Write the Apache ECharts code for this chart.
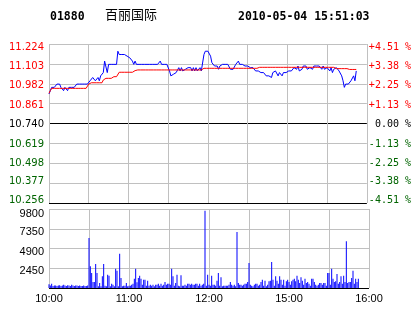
<!DOCTYPE html>
<html><head><meta charset="utf-8">
<script src="https://cdn.jsdelivr.net/npm/echarts@6/dist/echarts.min.js"></script>
<style>html,body{margin:0;padding:0;background:#fff}#c{width:414px;height:314px}</style>
</head><body><div id="c"></div>
<script>
const stockCode = '01880';
const stockName = '百丽国际';
const timestamp = '2010-05-04 15:51:03';
const prevClose = 10.74;
const priceStep = 0.121;
// bottom to top
const priceTickLabels = ['10.256','10.377','10.498','10.619','10.740','10.861','10.982','11.103','11.224'];
const pctTickLabels = ['-4.51 %','-3.38 %','-2.25 %','-1.13 %',' 0.00 %','+1.13 %','+2.25 %','+3.38 %','+4.51 %'];
const volumeMax = 9800;
const volumeStep = 2450;
const timeTickLabels = ['10:00','','11:00','','12:00','','15:00','','16:00'];
const sessionMinutes = 240;

// one value per trading minute from 10:00
const minutePrice = [
10.92,10.94,10.96,10.96,10.96,10.96,10.98,10.98,10.98,10.96,
10.95,10.94,10.96,10.95,10.94,10.96,10.96,10.96,10.96,10.96,
10.96,10.98,10.98,10.98,10.98,10.98,10.98,10.98,10.98,10.98,
10.99,11.00,11.01,11.02,11.01,11.00,10.99,11.02,11.00,11.03,
11.04,11.05,11.12,11.11,11.05,11.10,11.10,11.10,11.10,11.10,
11.10,11.10,11.18,11.16,11.16,11.16,11.16,11.16,11.15,11.15,
11.14,11.14,11.14,11.12,11.10,11.12,11.10,11.10,11.10,11.10,
11.10,11.10,11.10,11.10,11.10,11.10,11.10,11.10,11.10,11.10,
11.10,11.10,11.10,11.10,11.12,11.10,11.10,11.10,11.10,11.10,
11.10,11.06,11.03,11.02,11.04,11.03,11.05,11.06,11.08,11.06,
11.08,11.06,11.07,11.07,11.08,11.08,11.08,11.08,11.06,11.08,
11.06,11.08,11.06,11.06,11.08,11.06,11.06,11.16,11.18,11.18,
11.18,11.17,11.15,11.11,11.10,11.09,11.09,11.09,11.07,11.09,
11.10,11.10,11.10,11.10,11.10,11.10,11.10,11.07,11.07,11.07,
11.07,11.10,11.10,11.12,11.10,11.09,11.10,11.10,11.09,11.10,
11.09,11.10,11.08,11.07,11.08,11.07,11.06,11.06,11.06,11.05,
11.05,11.06,11.05,11.05,11.03,11.03,11.03,11.04,11.02,11.05,
11.05,11.06,11.05,11.03,11.05,11.04,11.03,11.05,11.04,11.05,
11.05,11.06,11.05,11.06,11.07,11.08,11.09,11.07,11.09,11.06,
11.07,11.07,11.09,11.08,11.09,11.07,11.06,11.08,11.09,11.07,
11.09,11.09,11.09,11.09,11.09,11.08,11.07,11.09,11.07,11.08,
11.08,11.08,11.06,11.08,11.05,11.07,11.07,11.08,11.09,11.06,
11.05,11.03,11.00,10.96,10.98,10.98,10.98,10.98,11.00,11.01,
11.03,11.00,11.06
];

const minuteAvg = [
10.924,10.940,10.954,10.954,10.954,10.954,10.954,10.954,10.954,10.954,
10.954,10.954,10.954,10.954,10.954,10.954,10.954,10.954,10.954,10.954,
10.954,10.954,10.954,10.954,10.954,10.954,10.954,10.954,10.954,10.954,
10.980,10.980,10.988,10.988,10.988,10.988,10.988,10.988,10.988,10.988,
10.988,11.005,11.015,11.015,11.015,11.015,11.015,11.015,11.025,11.025,
11.025,11.025,11.025,11.052,11.052,11.052,11.052,11.052,11.052,11.052,
11.052,11.052,11.052,11.052,11.062,11.062,11.062,11.066,11.066,11.066,
11.066,11.066,11.066,11.066,11.066,11.066,11.066,11.066,11.066,11.066,
11.066,11.066,11.066,11.066,11.066,11.066,11.066,11.066,11.066,11.066,
11.066,11.066,11.066,11.066,11.066,11.066,11.066,11.066,11.066,11.066,
11.066,11.066,11.066,11.066,11.066,11.066,11.066,11.066,11.066,11.066,
11.066,11.066,11.066,11.066,11.066,11.066,11.066,11.076,11.076,11.076,
11.076,11.076,11.076,11.076,11.076,11.076,11.076,11.076,11.076,11.076,
11.076,11.076,11.076,11.076,11.076,11.076,11.076,11.076,11.076,11.076,
11.076,11.076,11.076,11.076,11.076,11.076,11.076,11.076,11.076,11.076,
11.076,11.076,11.076,11.076,11.076,11.076,11.076,11.076,11.082,11.082,
11.082,11.082,11.082,11.082,11.082,11.082,11.082,11.082,11.082,11.082,
11.082,11.082,11.082,11.082,11.082,11.082,11.082,11.082,11.082,11.082,
11.082,11.082,11.082,11.082,11.082,11.082,11.082,11.082,11.082,11.082,
11.082,11.082,11.082,11.082,11.082,11.082,11.082,11.082,11.082,11.082,
11.082,11.082,11.082,11.082,11.082,11.082,11.082,11.082,11.082,11.082,
11.082,11.082,11.082,11.082,11.082,11.082,11.074,11.074,11.074,11.074,
11.074,11.074,11.074,11.074,11.074,11.074,11.069,11.069,11.069,11.069,
11.069,11.069,11.069
];

const minuteVolume = [
450,300,520,250,300,300,250,300,350,250,
300,400,300,250,350,300,250,400,300,250,
300,300,250,300,250,250,300,250,250,300,
6200,2690,1860,740,740,2980,1860,210,620,210,
1450,2980,290,210,1650,1530,210,540,410,210,
2400,2150,210,4260,1240,210,290,290,620,210,
290,290,410,540,1160,2400,700,1240,1530,1160,
410,1030,1030,290,910,290,410,290,410,210,
410,410,540,290,540,290,410,740,410,540,
540,410,2400,1450,290,620,1650,290,210,1570,
290,290,410,290,540,540,410,540,410,410,
540,540,290,540,290,410,540,9590,290,1650,
410,290,1530,410,410,290,910,1860,290,1320,
210,290,290,290,290,410,740,410,290,410,
210,6950,620,410,410,290,410,540,540,740,
3100,410,290,210,410,540,540,290,410,740,
1030,290,910,210,410,830,910,3230,1030,290,
1450,910,540,1450,1030,410,1030,290,830,1030,
740,410,830,1030,1160,830,1530,1030,620,1320,
910,410,1160,620,740,540,290,1160,1160,740,
410,290,410,620,620,410,620,620,290,1860,
1860,410,2400,1160,740,830,1740,540,740,1450,
540,1530,740,5790,620,740,740,1240,2150,540,
1160,740,1160
];

const UP = '#ff0000', DOWN = '#006400', GRID = '#c0c0c0';
const toUnits = p => (p - prevClose) / priceStep;
const half = (priceTickLabels.length - 1) / 2;
const tickIdx = v => Math.round(v) + half;
const idxColor = i => i > half ? UP : (i < half ? DOWN : '#000');
const priceSplitColors = priceTickLabels.map((_, i) => (i === 0 || i === half) ? '#000' : GRID);
const volSplitColors = [0,1,2,3,4].map(i => i === 0 ? '#000' : GRID);

// vertical nudges of axis label text (px, positive = down)
const priceNudge = [-3, -1.5, 0, 1, 1.2, 1.5, 2, 2.7, 3.5];
const volNudge = [0, 2.8, 3.2, 3.7, 5];
const pad = n => n >= 0 ? [2 * n, 0, 0, 0] : [0, 0, -2 * n, 0];

function makeRich(nudges, family, size, colorFn) {
  const r = {};
  nudges.forEach((n, i) => { r['r' + i] = {color: colorFn(i), fontFamily: family, fontSize: size, padding: pad(n)}; });
  return r;
}

const chart = echarts.init(document.getElementById('c'), null, {renderer: 'canvas'});
chart.setOption({
  animation: false,
  backgroundColor: '#fff',
  graphic: [
    {type: 'text', left: 50, top: 11, style: {text: stockCode, font: 'bold 11.5px "DejaVu Sans Mono"', fill: '#000'}},
    {type: 'text', left: 105, top: 8, style: {text: stockName, font: '13px "Noto Sans CJK SC"', fill: '#000'}},
    {type: 'text', left: 238, top: 11, style: {text: timestamp, font: 'bold 11.5px "DejaVu Sans Mono"', fill: '#000'}}
  ],
  grid: [
    {left: 49, right: 45, top: 44, height: 159},
    {left: 49, right: 45, top: 209, height: 79}
  ],
  xAxis: [
    {type: 'value', gridIndex: 0, min: 0, max: sessionMinutes, interval: 30,
     axisLine: {show: false}, axisTick: {show: false}, axisLabel: {show: false},
     splitLine: {show: true, lineStyle: {color: GRID, width: 1}}},
    {type: 'value', gridIndex: 1, min: 0, max: sessionMinutes, interval: 30,
     axisLine: {show: false}, axisTick: {show: false},
     axisLabel: {show: true, margin: 5, color: '#000', fontFamily: 'Liberation Sans', fontSize: 11,
       formatter: v => timeTickLabels[Math.round(v / 30)] || ''},
     splitLine: {show: true, lineStyle: {color: GRID, width: 1}}}
  ],
  yAxis: [
    {type: 'value', gridIndex: 0, position: 'left', min: -half, max: half, interval: 1,
     axisLine: {show: false}, axisTick: {show: false},
     axisLabel: {margin: 5, fontFamily: 'DejaVu Sans', fontSize: 10,
       formatter: v => { const i = tickIdx(v); return '{r' + i + '|' + priceTickLabels[i] + '}'; },
       rich: makeRich(priceNudge, 'DejaVu Sans', 10, idxColor)},
     splitLine: {show: true, lineStyle: {color: priceSplitColors, width: 1}}},
    {type: 'value', gridIndex: 0, position: 'right', min: -half, max: half, interval: 1,
     axisLine: {show: false}, axisTick: {show: false},
     axisLabel: {margin: 2, align: 'left', fontFamily: 'DejaVu Sans Mono', fontSize: 10,
       formatter: v => { const i = tickIdx(v); return '{r' + i + '|' + pctTickLabels[i] + '}'; },
       rich: makeRich(priceNudge, 'DejaVu Sans Mono', 10, idxColor)},
     splitLine: {show: false}},
    {type: 'value', gridIndex: 1, min: 0, max: volumeMax, interval: volumeStep,
     axisLine: {show: false}, axisTick: {show: false},
     axisLabel: {margin: 5, fontFamily: 'Liberation Sans', fontSize: 11, color: '#000',
       formatter: v => { const i = Math.round(v / volumeStep); return v === 0 ? '' : '{r' + i + '|' + v + '}'; },
       rich: makeRich(volNudge, 'Liberation Sans', 11, () => '#000')},
     splitLine: {show: true, lineStyle: {color: volSplitColors, width: 1}}}
  ],
  series: [
    {type: 'line', xAxisIndex: 0, yAxisIndex: 0, showSymbol: false, symbol: 'none',
     data: minutePrice.map((p, i) => [i, toUnits(p)]),
     lineStyle: {color: '#0000ff', width: 1}, z: 3},
    {type: 'line', xAxisIndex: 0, yAxisIndex: 0, showSymbol: false, symbol: 'none',
     data: minuteAvg.map((p, i) => [i, toUnits(p)]),
     lineStyle: {color: '#ff0000', width: 1}, z: 4},
    {type: 'bar', xAxisIndex: 1, yAxisIndex: 2, barWidth: 1,
     data: minuteVolume.map((v, i) => [i, v]),
     itemStyle: {color: '#0000ff'}}
  ]
});
</script>
</body></html>
